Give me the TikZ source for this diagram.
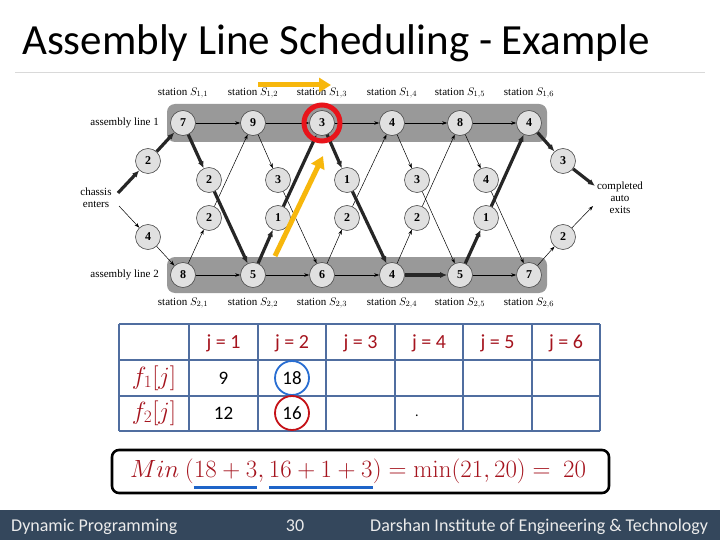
\documentclass[tikz,border=0pt]{standalone}
\usepackage[no-math]{fontspec}
\setmainfont{Carlito}
\newfontfamily\tms{Liberation Serif}
\usetikzlibrary{arrows.meta}
\definecolor{footbg}{RGB}{52,71,92}
\definecolor{tabline}{RGB}{80,110,160}
\definecolor{dred}{RGB}{165,20,30}
\definecolor{ylw}{RGB}{247,183,12}
\definecolor{ulblue}{RGB}{30,100,200}
\definecolor{hired}{RGB}{232,20,27}
\definecolor{cblue}{RGB}{40,110,210}
\tikzset{
  st/.style={circle, draw=black!70, fill=black!12, minimum size=25pt, inner sep=0pt,
    font=\tms\bfseries\fontsize{12}{12}\selectfont, line width=0.6pt},
  thinar/.style={-{Stealth[length=5pt,width=3.5pt]}, line width=0.5pt, draw=black},
  thkar/.style={-{Latex[length=7pt,width=6pt]}, line width=3.2pt, draw=black!85},
  lbl/.style={font=\tms\fontsize{11}{12}\selectfont, inner sep=0pt},
  hdr/.style={font=\fontsize{20}{20}\selectfont, text=dred},
  val/.style={font=\fontsize{19}{19}\selectfont, text=black},
  rowlbl/.style={font=\fontsize{24}{24}\selectfont, text=dred},
  fm/.style={font=\fontsize{25}{25}\selectfont, text=dred, inner sep=0pt, anchor=base west},
  foot/.style={font=\fontsize{18}{18}\selectfont, text=white!92!black, anchor=base west},
  yarr/.style={draw=ylw, line width=5pt, -{Triangle[length=12pt,width=14pt]}}
}
\begin{document}
\begin{tikzpicture}[x=1pt,y=-1pt]
\useasboundingbox (0,0) rectangle (720,540);
\fill[white] (0,0) rectangle (720,540);
% title
\node[anchor=base west, inner sep=0pt, font=\fontsize{43}{43}\selectfont] (title) at (22,55) {Assembly Line Scheduling - Example};
\draw[black!15, line width=0.8pt] (15,72) -- (705,72);
% bands
\fill[black!40, rounded corners=8pt] (167,104) rectangle (547,142);
\fill[black!40, rounded corners=8pt] (167,257) rectangle (547,293);
% stations
\foreach \n/\x/\v in {1/183/7, 2/253/9, 3/322/3, 4/392/4, 5/460/8, 6/529/4}
  \node[st] (a\n) at (\x,123) {\v};
\foreach \n/\x/\v in {1/183/8, 2/253/5, 3/322/6, 4/392/4, 5/460/5, 6/529/7}
  \node[st] (b\n) at (\x,275) {\v};
\foreach \n/\x/\v in {1/209/2, 2/278/3, 3/347/1, 4/417/3, 5/486/4}
  \node[st] (t\n) at (\x,180) {\v};
\foreach \n/\x/\v in {1/209/2, 2/278/1, 3/347/2, 4/417/2, 5/486/1}
  \node[st] (u\n) at (\x,218) {\v};
\node[st] (e1) at (148,161) {2};
\node[st] (e2) at (148,237) {4};
\node[st] (x1) at (563,161) {3};
\node[st] (x2) at (563,237) {2};
% labels
\foreach \n/\x in {1/183,2/253,3/322,4/392,5/460,6/529}{
  \node[lbl] (sa\n) at (\x,93) {station $S_{1,\n}$};
  \node[lbl] (sb\n) at (\x,303) {station $S_{2,\n}$};
}
\node[lbl, anchor=east] (al1) at (159,123) {assembly line 1};
\node[lbl, anchor=east] (al2) at (159,275) {assembly line 2};
\node[lbl, align=center] (chs) at (96,198) {chassis\\enters};
\node[lbl, align=center] (cmp) at (620,198) {completed\\auto\\exits};
\coordinate (cin1) at (118,193);
\coordinate (cin2) at (119,206);
\coordinate (cout1) at (595,186);
\coordinate (cout2) at (593,206);
% line connectors
\draw[thinar] (a1) -- (a2);
\draw[thinar] (a2) -- (a3);
\draw[thinar] (a3) -- (a4);
\draw[thinar] (a4) -- (a5);
\draw[thinar] (a5) -- (a6);
\draw[thinar] (b1) -- (b2);
\draw[thinar] (b2) -- (b3);
\draw[thinar] (b3) -- (b4);
\draw[thkar] (b4) -- (b5);
\draw[thinar] (b5) -- (b6);
% transfers thin
\draw[thinar] (a2) -- (t2); \draw[thinar] (t2) -- (b3);
\draw[thinar] (a4) -- (t4); \draw[thinar] (t4) -- (b5);
\draw[thinar] (a5) -- (t5); \draw[thinar] (t5) -- (b6);
\draw[thinar] (b1) -- (u1); \draw[thinar] (u1) -- (a2);
\draw[thinar] (b3) -- (u3); \draw[thinar] (u3) -- (a4);
\draw[thinar] (b4) -- (u4); \draw[thinar] (u4) -- (a5);
% transfers thick
\draw[thkar] (a1) -- (t1); \draw[thkar] (t1) -- (b2);
\draw[thkar] (b2) -- (u2); \draw[thkar] (u2) -- (a3);
\draw[thkar] (a3) -- (t3); \draw[thkar] (t3) -- (b4);
\draw[thkar] (b5) -- (u5); \draw[thkar] (u5) -- (a6);
% entry / exit
\draw[thkar] (cin1) -- (e1); \draw[thkar] (e1) -- (a1);
\draw[thinar] (cin2) -- (e2); \draw[thinar] (e2) -- (b1);
\draw[thkar] (a6) -- (x1); \draw[thkar] (x1) -- (cout1);
\draw[thinar] (b6) -- (x2); \draw[thinar] (x2) -- (cout2);
% highlights
\coordinate (y1s) at (258,85); \coordinate (y1e) at (331,85);
\draw[yarr] (y1s) -- (y1e);
\coordinate (y2s) at (275,256); \coordinate (y2e) at (323,156);
\draw[yarr] (y2s) -- (y2e);
\draw[hired, line width=5pt] (a3) circle (18);
% table
\foreach \x in {119,189,258,326,395,463,532,600}
  \draw[tabline, line width=1.4pt] (\x,324) -- (\x,431);
\foreach \y in {324,360,396,431}
  \draw[tabline, line width=1.4pt] (119,\y) -- (600,\y);
\foreach \n/\x in {1/223.5,2/292,3/360.5,4/429,5/497.5,6/566}
  \node[hdr] (h\n) at (\x,343) {j = \n};
\node[rowlbl] (r1) at (154,378) {$f_1[j]$};
\node[rowlbl] (r2) at (154,413) {$f_2[j]$};
\node[val] (v11) at (223.5,378) {9};
\node[val] (v12) at (292,378) {18};
\node[val] (v21) at (223.5,413) {12};
\node[val] (v22) at (292,413) {16};
\node[inner sep=0pt, font=\fontsize{14}{14}\selectfont] (dot) at (417,416) {.};
\draw[cblue, line width=1.8pt] (v12) circle (17);
\draw[hired!85!black, line width=1.8pt] (v22) circle (17);
% formula
\draw[line width=2.6pt, rounded corners=7pt] (112,450) rectangle (609,493);
\node[fm] (m1) at (130,477) {$Min\ ($};
\node[fm] (m2) at (m1.base east) {$18+3$};
\node[fm] (m3) at (m2.base east) {$,\,$};
\node[fm] (m4) at (m3.base east) {$16+1+3$};
\node[fm] (m5) at (m4.base east) {$)=\min(21,20)=\ 20$};
\draw[ulblue, line width=3pt] ([yshift=-10pt]m2.base west) -- ([yshift=-10pt]m2.base east);
\draw[ulblue, line width=3pt] ([yshift=-10pt]m4.base west) -- ([yshift=-10pt]m4.base east);
% footer
\fill[footbg] (0,510) rectangle (720,540);
\node[foot, inner sep=0pt] (f1) at (11,531) {Dynamic Programming};
\node[foot, inner sep=0pt, anchor=base] (f2) at (295,531) {30};
\node[foot, inner sep=0pt] (f3) at (370,531) {Darshan Institute of Engineering \& Technology};
\end{tikzpicture}
\end{document}
